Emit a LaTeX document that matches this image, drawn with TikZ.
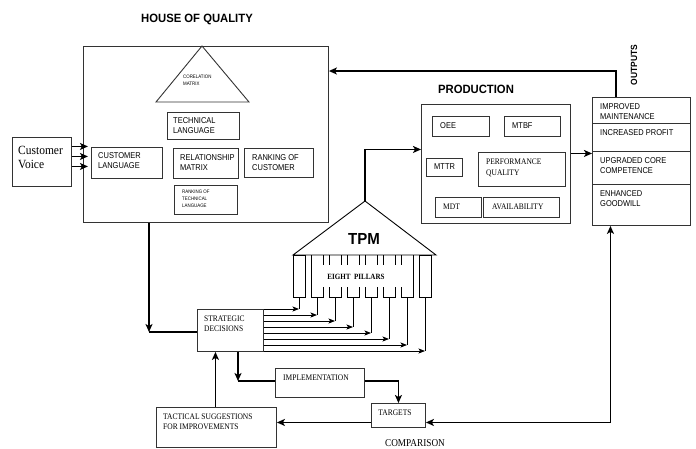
\documentclass[tikz,border=0pt]{standalone}
\usepackage{fontspec}
\setmainfont{Liberation Serif}
\setsansfont{Liberation Sans}
\newfontfamily\nsans[FakeStretch=0.88]{Liberation Sans}
\newfontfamily\nserif[FakeStretch=0.88]{Liberation Serif}
\newfontfamily\wserif[FakeStretch=0.92]{Liberation Serif}
\newfontfamily\bsans[FakeStretch=0.94]{Liberation Sans}
\usetikzlibrary{arrows.meta}
\begin{document}
\begin{tikzpicture}[x=1pt,y=-1pt,
  box/.style={draw=black!80, line width=0.9pt, inner sep=0pt, anchor=north west},
  shp/.style={draw=black!80, line width=0.9pt},
  thk/.style={line width=1.8pt, black},
  arr/.style={-{Stealth[length=8pt,width=7pt,inset=2pt]}},
  barr/.style={{Stealth[length=8pt,width=7pt,inset=2pt]}-{Stealth[length=8pt,width=7pt,inset=2pt]}},
  pil/.style={line width=0.8pt, black},
  parr/.style={-{Stealth[length=6.5pt,width=5pt,inset=1.5pt]}},
  sl/.style={font=\nsans\fontsize{8.5pt}{10pt}\selectfont, align=left, inner sep=0pt, anchor=west},
  rl/.style={font=\nserif\fontsize{8.5pt}{10pt}\selectfont, align=left, inner sep=0pt, anchor=west},
  tinyl/.style={font=\nsans\fontsize{5pt}{7pt}\selectfont, align=left, inner sep=0pt, anchor=west},
  ttl/.style={font=\bsans\bfseries\fontsize{12pt}{13pt}\selectfont, inner sep=0pt},
]
\useasboundingbox (0,0) rectangle (696,448);

% ---------- House of quality ----------
\node[ttl] (hoqT) at (197,19) {HOUSE OF QUALITY};
\node[box, minimum width=245pt, minimum height=176pt] (hoq) at (83,46) {};
\draw[shp] (202,46) -- (156,102) -- (249,102) -- cycle;
\node[tinyl] (corT) at (183,80.5) {CORELATION\\MATRIX};
\node[box, minimum width=72pt, minimum height=27pt] (tl) at (167,112) {};
\node[sl] (tlT) at (173,126) {TECHNICAL\\LANGUAGE};
\node[box, minimum width=59pt, minimum height=49pt] (cv) at (12,137) {};
\node[rl, font=\wserif\fontsize{12.5pt}{14pt}\selectfont] (cvT) at (18,157) {Customer\\Voice};
\node[box, minimum width=71pt, minimum height=31pt] (cl) at (91,147) {};
\node[sl] (clT) at (98,161) {CUSTOMER\\LANGUAGE};
\node[box, minimum width=65pt, minimum height=30pt] (rm) at (173,148) {};
\node[sl] (rmT) at (180,163) {RELATIONSHIP\\MATRIX};
\node[box, minimum width=69pt, minimum height=29pt] (rc) at (244,148) {};
\node[sl] (rcT) at (252,163) {RANKING OF\\CUSTOMER};
\node[box, minimum width=63pt, minimum height=29pt] (rt) at (174,185) {};
\node[tinyl] (rtT) at (182,199) {RANKING OF\\TECHNICAL\\LANGUAGE};

\foreach \s in {15.5,5.5,-4.5}
  \draw[pil, line width=1pt, arr] ([yshift=\s pt]cv.east) -- ++(16,0);

% ---------- Production ----------
\node[ttl] (prodT) at (476,89) {PRODUCTION};
\node[box, minimum width=149pt, minimum height=119pt] (prod) at (421,104) {};
\node[box, minimum width=57pt, minimum height=20pt] (oee) at (432,116) {};
\node[sl] (oeeT) at (440,126) {OEE};
\node[box, minimum width=56pt, minimum height=20pt] (mtbf) at (504,116) {};
\node[sl] (mtbfT) at (512,126) {MTBF};
\node[box, minimum width=36pt, minimum height=18pt] (mttr) at (426,158) {};
\node[sl] (mttrT) at (434,167) {MTTR};
\node[box, minimum width=87pt, minimum height=34pt] (pq) at (478,152) {};
\node[rl, font=\nserif\fontsize{8.5pt}{11pt}\selectfont] (pqT) at (486,167.5) {PERFORMANCE\\QUALITY};
\node[box, minimum width=46pt, minimum height=20pt] (mdt) at (435,197) {};
\node[rl] (mdtT) at (443,207) {MDT};
\node[box, minimum width=76pt, minimum height=20pt] (av) at (483,197) {};
\node[rl] (avT) at (492,207) {AVAILABILITY};

% ---------- Outputs ----------
\node[ttl, font=\bsans\bfseries\fontsize{9pt}{10pt}\selectfont, rotate=90] (outT) at (634,65) {OUTPUTS};
\node[box, minimum width=98pt, minimum height=26pt] (o1) at (592,97) {};
\node[box, minimum width=98pt, minimum height=28pt] (o2) at (592,123) {};
\node[box, minimum width=98pt, minimum height=33pt] (o3) at (592,151) {};
\node[box, minimum width=98pt, minimum height=41pt] (o4) at (592,184) {};
\node[sl] (o1T) at (600,112) {IMPROVED\\MAINTENANCE};
\node[sl] (o2T) at (600,133) {INCREASED PROFIT};
\node[sl] (o3T) at (600,166) {UPGRADED CORE\\COMPETENCE};
\node[sl] (o4T) at (600,199) {ENHANCED\\GOODWILL};

% ---------- TPM ----------
\coordinate (tpmtop) at (365,201);
\draw[shp, black] (293,255) -- (tpmtop) -- (436,255) -- cycle;
\node[ttl, font=\bsans\bfseries\fontsize{16pt}{17pt}\selectfont] (tpmT) at (364,239) {TPM};
% pillars
\draw[pil] (293,255) rectangle (305,297);
\draw[pil] (419,255) rectangle (431,297);
\draw[pil] (311,255) -- (311,297);
\draw[pil] (413,255) -- (413,297);
\foreach \i in {2,...,7} {
  \pgfmathsetmacro\L{293+18*(\i-1)}
  \pgfmathsetmacro\R{\L+12}
  \draw[pil] (\L,287) -- (\L,297) -- (\R,297) -- (\R,287);
  \draw[pil] (\L,255) -- (\L,265);
  \draw[pil] (\R,255) -- (\R,265);
}
\node[font=\nserif\bfseries\fontsize{8pt}{9pt}\selectfont, inner sep=0pt] (epT) at (356,277) {EIGHT\ \ PILLARS};

% ---------- Lower part ----------
\node[box, minimum width=66pt, minimum height=42pt] (sd) at (197,309) {};
\node[rl] (sdT) at (204,324) {STRATEGIC\\DECISIONS};
\node[box, minimum width=89pt, minimum height=29pt] (imp) at (275,368) {};
\node[rl] (impT) at (283,378) {IMPLEMENTATION};
\node[box, minimum width=54pt, minimum height=24pt] (tg) at (371,403) {};
\node[rl, anchor=center] (tgT) at (395,413) {TARGETS};
\node[box, minimum width=120pt, minimum height=40pt] (tac) at (156,407) {};
\node[rl] (tacT) at (163,422) {TACTICAL SUGGESTIONS\\FOR IMPROVEMENTS};
\node[font=\nserif\fontsize{10.5pt}{11pt}\selectfont, inner sep=0pt] (cmpT) at (415,443) {COMPARISON};

% pillar arrows
\foreach \i in {1,...,8} {
  \pgfmathsetmacro\cx{299+18*(\i-1)}
  \pgfmathsetmacro\yy{309+6*(\i-1)}
  \coordinate (p\i) at (\cx,297);
  \coordinate (q\i) at (\cx,\yy);
  \draw[pil] (p\i) -- (q\i);
  \draw[pil, parr] (sd.east |- q\i) -- (q\i);
}

% ---------- Thick connectors ----------
\draw[thk, arr] ([xshift=24pt]o1.north west) |- ([yshift=-25pt]hoq.north east);
\draw[thk, arr] (tpmtop) |- ([yshift=14.5pt]prod.west);
\draw[thk, arr] ([yshift=10.5pt]prod.east) -- ([yshift=10.5pt]prod.east -| o3.west);
\coordinate (c1) at (149,332);
\draw[thk, arr] (hoq.south -| c1) -- (c1);
\draw[thk] (c1) -- (sd.west |- c1);
\coordinate (c2) at (238,381);
\draw[thk, arr] (sd.south -| c2) -- (c2);
\draw[thk] (c2) -- (imp.west |- c2);
\draw[thk, arr] (imp.east |- c2) -| (tg.north);
\draw[thk, arr] ([yshift=-7pt]tg.west) -- ([yshift=-7pt]tg.west -| tac.east);
\draw[thk, arr] ([xshift=-1pt]tac.north) -- ([xshift=-1pt]tac.north |- sd.south);
\draw[thk, barr] ([yshift=-7pt]tg.east) -| ([xshift=-31pt]o4.south);
\end{tikzpicture}
\end{document}
